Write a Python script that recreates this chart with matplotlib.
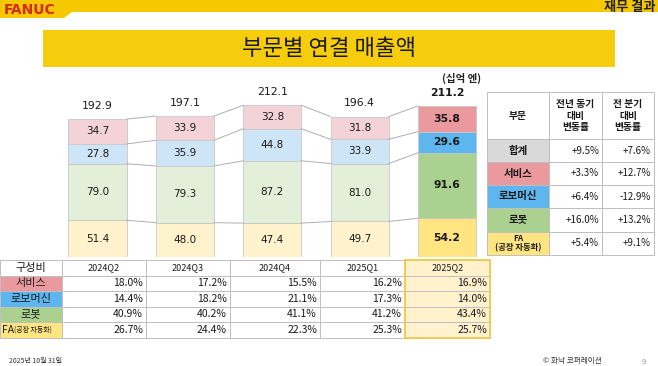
import numpy as np
import matplotlib
matplotlib.use('Agg')
import matplotlib.pyplot as plt
from matplotlib.patches import Rectangle, Polygon

plt.rcParams['font.family'] = ['Noto Sans CJK KR', 'DejaVu Sans']

quarters = ['2024Q2', '2024Q3', '2024Q4', '2025Q1', '2025Q2']
fa = [51.4, 48.0, 47.4, 49.7, 54.2]
robot = [79.0, 79.3, 87.2, 81.0, 91.6]
robomachine = [27.8, 35.9, 44.8, 33.9, 29.6]
service = [34.7, 33.9, 32.8, 31.8, 35.8]
totals = [192.9, 197.1, 212.1, 196.4, 211.2]

share_service = [18.0, 17.2, 15.5, 16.2, 16.9]
share_robomachine = [14.4, 18.2, 21.1, 17.3, 14.0]
share_robot = [40.9, 40.2, 41.1, 41.2, 43.4]
share_fa = [26.7, 24.4, 22.3, 25.3, 25.7]

change_rows = ['합계', '서비스', '로보머신', '로봇', 'FA\n(공장 자동화)']
yoy = [9.5, 3.3, 6.4, 16.0, 5.4]
qoq = [7.6, 12.7, -12.9, 13.2, 9.1]

# colours: light for past quarters, strong for latest
light = {'svc': '#F3D3D7', 'rm': '#CDE5F7', 'rb': '#E3EFD9', 'fa': '#FFF2CC'}
strong = {'svc': '#EA9A9F', 'rm': '#5DB7EE', 'rb': '#AAD18F', 'fa': '#FFE581', 'tot': '#D9D9D9'}
grid_c = '#BFBFBF'

fig = plt.figure(figsize=(6.58, 3.66), dpi=100)
bg = fig.add_axes([0, 0, 1, 1])
bg.set_xlim(0, 658)
bg.set_ylim(366, 0)
bg.axis('off')

# top band + logo
bg.add_patch(Polygon([(0, 0), (658, 0), (658, 12), (72, 12), (64, 18), (0, 18)],
                     closed=True, color='#F6C800', lw=0))
bg.text(4, 9.5, 'FANUC', family='DejaVu Sans', weight='bold', fontsize=10,
        color='#D22B1F', va='center', ha='left')
bg.text(655, 6.5, '재무 결과', fontsize=9.5, weight='bold', color='#222222',
        va='center', ha='right')

# title box
bg.add_patch(Rectangle((43, 30), 572, 37, color='#F6CD0C', lw=0))
bg.text(329, 48.5, '부문별 연결 매출액', fontsize=16, color='#1A1A1A',
        ha='center', va='center')
bg.text(462, 78, '(십억 엔)', fontsize=7.5, weight='bold', color='#222222',
        ha='center', va='center')

# stacked bars
ax = fig.add_axes([40 / 658, (366 - 257) / 366, 440 / 658, 197 / 366])
spacing = 87.4
ax.set_xlim(-57.5 / spacing, -57.5 / spacing + 440 / spacing)
ax.set_ylim(0, 197 / 0.715)
ax.axis('off')

w = 0.664
x = np.arange(len(quarters))
layers = [(fa, 'fa'), (robot, 'rb'), (robomachine, 'rm'), (service, 'svc')]
bottom = np.zeros(len(quarters))
levels = []
for vals, key in layers:
    vals = np.array(vals)
    cols = [light[key]] * (len(quarters) - 1) + [strong[key]]
    ax.bar(x, vals, w, bottom=bottom, color=cols, edgecolor='#C8C8C8', lw=0.6)
    for i, v in enumerate(vals):
        last = i == len(quarters) - 1
        ax.text(x[i], bottom[i] + v / 2, f'{v:.1f}', ha='center', va='center',
                family='DejaVu Sans', fontsize=7.8 if last else 7.5,
                weight='bold' if last else 'normal', color='#1A1A1A')
    bottom = bottom + vals
    levels.append(bottom.copy())

for lev in levels:
    for i in range(len(quarters) - 1):
        ax.plot([x[i] + w / 2, x[i + 1] - w / 2], [lev[i], lev[i + 1]],
                color='#AEAEAE', lw=0.7)

for i, t in enumerate(totals):
    last = i == len(quarters) - 1
    ax.annotate(f'{t:.1f}', (x[i], bottom[i]), xytext=(0, 9.5),
                textcoords='offset points', ha='center', va='center',
                family='DejaVu Sans', fontsize=7.8,
                weight='bold' if last else 'normal', color='#1A1A1A')

# composition table (bottom)
col_x = [0, 62, 146, 230, 320, 405, 490]
row_y = [260, 275.5, 291, 306.5, 322, 337.5]
row_labels = ['구성비', '서비스', '로보머신', '로봇', 'FA']
row_fill = ['white', strong['svc'], strong['rm'], strong['rb'], strong['fa']]
shares = [share_service, share_robomachine, share_robot, share_fa]

for r in range(5):
    y0, y1 = row_y[r], row_y[r + 1]
    for c in range(6):
        x0, x1 = col_x[c], col_x[c + 1]
        if c == 0:
            fill = row_fill[r]
        elif c == 5:
            fill = light['fa']
        else:
            fill = 'white'
        bg.add_patch(Rectangle((x0, y0), x1 - x0, y1 - y0, facecolor=fill,
                               edgecolor=grid_c, lw=0.7))
        yc = (y0 + y1) / 2
        if c == 0:
            if r == 4:
                bg.text(2, yc, 'FA', fontsize=7.5, ha='left', va='center', color='#1A1A1A')
                bg.text(14, yc, '(공장 자동화)', fontsize=5, ha='left', va='center', color='#1A1A1A')
            else:
                bg.text((x0 + x1) / 2, yc, row_labels[r], fontsize=8,
                        ha='center', va='center', color='#1A1A1A')
        elif r == 0:
            bg.text((x0 + x1) / 2, yc, quarters[c - 1], fontsize=6.5,
                    ha='center', va='center', color='#1A1A1A')
        else:
            bg.text(x1 - 3, yc, f'{shares[r - 1][c - 1]:.1f}%', fontsize=7.5,
                    ha='right', va='center', color='#1A1A1A')

bg.add_patch(Rectangle((col_x[5], row_y[0]), col_x[6] - col_x[5], row_y[-1] - row_y[0],
                       facecolor='none', edgecolor='#F2C94C', lw=1.3))

# change table (right)
tx = [487, 549, 602, 654]
ty = [92, 139, 162, 185, 208, 232, 255]
heads = ['부문', '전년 동기\n대비\n변동률', '전 분기\n대비\n변동률']
cell_fill = [strong['tot'], strong['svc'], strong['rm'], strong['rb'], strong['fa']]
for c in range(3):
    bg.add_patch(Rectangle((tx[c], ty[0]), tx[c + 1] - tx[c], ty[1] - ty[0],
                           facecolor='white', edgecolor=grid_c, lw=0.7))
    bg.text((tx[c] + tx[c + 1]) / 2, (ty[0] + ty[1]) / 2, heads[c], fontsize=7,
            weight='bold', ha='center', va='center', linespacing=1.15, color='#1A1A1A')
for r in range(5):
    y0, y1 = ty[r + 1], ty[r + 2]
    yc = (y0 + y1) / 2
    for c in range(3):
        fill = cell_fill[r] if c == 0 else 'white'
        bg.add_patch(Rectangle((tx[c], y0), tx[c + 1] - tx[c], y1 - y0,
                               facecolor=fill, edgecolor=grid_c, lw=0.7))
    if r == 4:
        bg.text((tx[0] + tx[1]) / 2, yc, 'FA\n(공장 자동화)', fontsize=6,
                weight='bold', ha='center', va='center', linespacing=1.0, color='#1A1A1A')
    else:
        bg.text((tx[0] + tx[1]) / 2, yc, change_rows[r], fontsize=7.5,
                weight='bold', ha='center', va='center', color='#1A1A1A')
    bg.text(tx[2] - 3, yc, f'{yoy[r]:+.1f}%', fontsize=7, ha='right', va='center', color='#1A1A1A')
    bg.text(tx[3] - 3, yc, f'{qoq[r]:+.1f}%', fontsize=7, ha='right', va='center', color='#1A1A1A')

# footer
bg.text(9, 361, '2025년 10월 31일', fontsize=5, ha='left', va='center', color='#333333')
bg.text(572, 361.5, '© 화낙 코퍼레이션', fontsize=5.5, ha='center', va='center', color='#333333')
bg.text(644, 361.5, '9', fontsize=5.5, ha='center', va='center', color='#999999')

fig.savefig('out.png', dpi=100)
